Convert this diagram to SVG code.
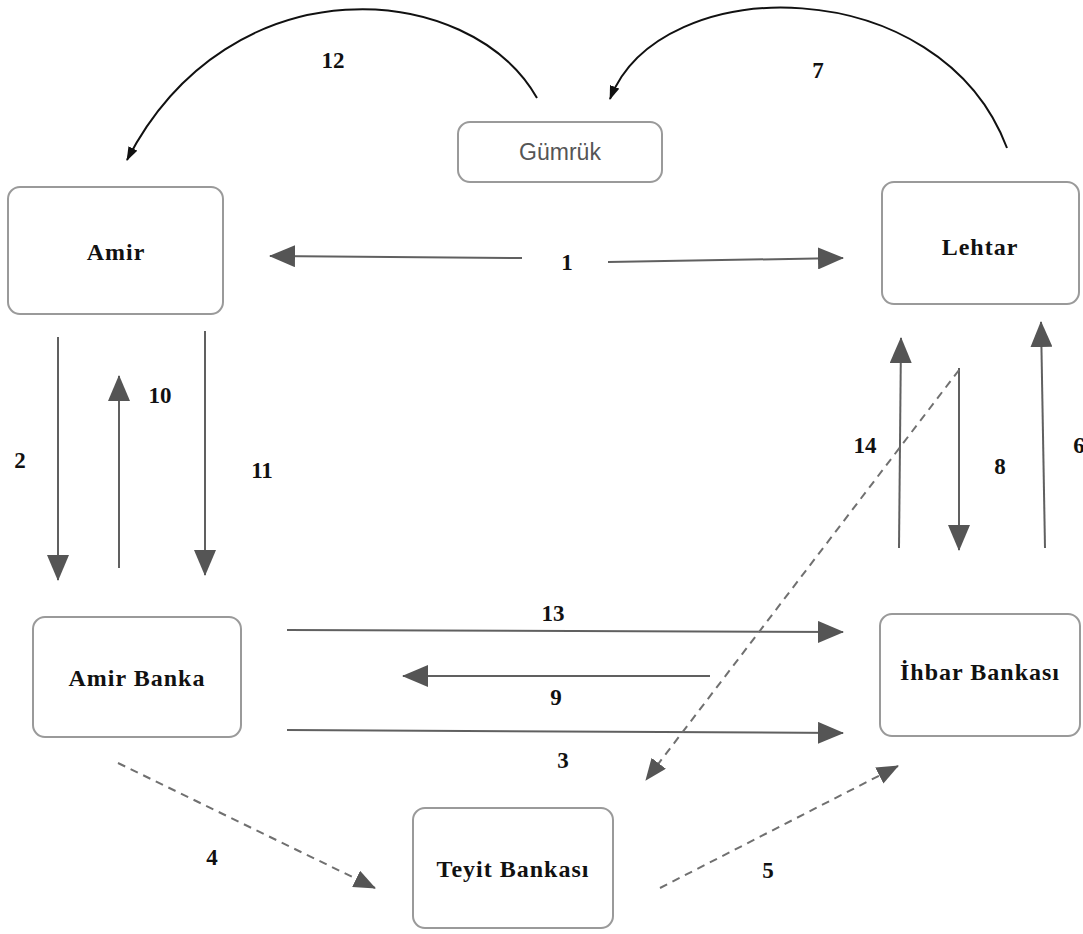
<svg xmlns="http://www.w3.org/2000/svg" width="1083" height="934" viewBox="0 0 1083 934">
  <style>
    .box { fill: #ffffff; stroke: #9a9a9a; stroke-width: 2; }
    .name { font-family: "Liberation Serif", "Times New Roman", serif; font-weight: bold; font-size: 24px; letter-spacing: 1px; fill: #111; text-anchor: middle; }
    .sans { font-family: "Liberation Sans", Arial, sans-serif; font-size: 23px; fill: #555; text-anchor: middle; }
    .num { font-family: "Liberation Serif", "Times New Roman", serif; font-weight: bold; font-size: 23px; fill: #111; text-anchor: middle; }
    .solid { fill: none; stroke: #606060; stroke-width: 2; }
    .dash { fill: none; stroke: #707070; stroke-width: 2; stroke-dasharray: 8 6; }
    .arc { fill: none; stroke: #111; stroke-width: 2; }
  </style>
  <defs>
    <marker id="head" markerUnits="userSpaceOnUse" markerWidth="26" markerHeight="22" refX="25" refY="11" orient="auto">
      <path d="M0,0 L26,11 L0,22 z" fill="#555"/>
    </marker>
    <marker id="headDash" markerUnits="userSpaceOnUse" markerWidth="22" markerHeight="18" refX="21" refY="9" orient="auto">
      <path d="M0,0 L22,9 L0,18 z" fill="#555"/>
    </marker>
    <marker id="headArc" markerUnits="userSpaceOnUse" markerWidth="14" markerHeight="10" refX="13" refY="5" orient="auto">
      <path d="M0,0 L14,5 L0,10 z" fill="#111"/>
    </marker>
  </defs>

  <rect width="1083" height="934" fill="#ffffff"/>

  <!-- nodes -->
  <g id="amir">
    <rect class="box" x="8" y="187" width="215" height="127" rx="12"/>
    <text class="name" x="116" y="260">Amir</text>
  </g>
  <g id="gumruk">
    <rect class="box" x="458" y="122" width="204" height="60" rx="12"/>
    <text class="sans" x="560" y="160">Gümrük</text>
  </g>
  <g id="lehtar">
    <rect class="box" x="882" y="182" width="197" height="122" rx="12"/>
    <text class="name" x="980" y="255">Lehtar</text>
  </g>
  <g id="amir-banka">
    <rect class="box" x="33" y="617" width="208" height="120" rx="12"/>
    <text class="name" x="137" y="686">Amir Banka</text>
  </g>
  <g id="ihbar-bankasi">
    <rect class="box" x="880" y="614" width="200" height="122" rx="12"/>
    <text class="name" x="980" y="680">İhbar Bankası</text>
  </g>
  <g id="teyit-bankasi">
    <rect class="box" x="413" y="808" width="200" height="120" rx="12"/>
    <text class="name" x="513" y="877">Teyit Bankası</text>
  </g>

  <!-- connectors -->
  <g id="connectors">
    <!-- 12: Gümrük to Amir -->
    <path class="arc" d="M537,98 C470,-20 230,-40 127,160" marker-end="url(#headArc)"/>
    <!-- 7: Lehtar to Gümrük -->
    <path class="arc" d="M1007,148 C940,-30 660,-30 610,99" marker-end="url(#headArc)"/>
    <!-- 1: both directions -->
    <line class="solid" x1="522" y1="258" x2="270" y2="256" marker-end="url(#head)"/>
    <line class="solid" x1="608" y1="262" x2="843" y2="258" marker-end="url(#head)"/>
    <!-- 2, 10, 11 -->
    <line class="solid" x1="58" y1="337" x2="58" y2="580" marker-end="url(#head)"/>
    <line class="solid" x1="119" y1="568" x2="119" y2="376" marker-end="url(#head)"/>
    <line class="solid" x1="205" y1="331" x2="205" y2="575" marker-end="url(#head)"/>
    <!-- 14, 8, 6 -->
    <line class="solid" x1="899" y1="548" x2="901" y2="338" marker-end="url(#head)"/>
    <line class="solid" x1="959" y1="368" x2="959" y2="550" marker-end="url(#head)"/>
    <line class="solid" x1="1045" y1="548" x2="1041" y2="322" marker-end="url(#head)"/>
    <!-- 13, 9, 3 -->
    <line class="solid" x1="287" y1="630" x2="843" y2="632" marker-end="url(#head)"/>
    <line class="solid" x1="710" y1="676" x2="403" y2="676" marker-end="url(#head)"/>
    <line class="solid" x1="287" y1="730" x2="843" y2="733" marker-end="url(#head)"/>
    <!-- dashed: Lehtar to Teyit, 4, 5 -->
    <line class="dash" x1="959" y1="370" x2="646" y2="780" marker-end="url(#headDash)"/>
    <line class="dash" x1="118" y1="763" x2="375" y2="888" marker-end="url(#headDash)"/>
    <line class="dash" x1="660" y1="888" x2="898" y2="766" marker-end="url(#headDash)"/>

    <!-- step numbers -->
    <text class="num" x="333" y="68">12</text>
    <text class="num" x="818" y="78">7</text>
    <text class="num" x="567" y="270">1</text>
    <text class="num" x="160" y="403">10</text>
    <text class="num" x="20" y="468">2</text>
    <text class="num" x="262" y="478">11</text>
    <text class="num" x="865" y="453">14</text>
    <text class="num" x="1000" y="474">8</text>
    <text class="num" x="1079" y="453">6</text>
    <text class="num" x="553" y="621">13</text>
    <text class="num" x="556" y="705">9</text>
    <text class="num" x="563" y="768">3</text>
    <text class="num" x="212" y="865">4</text>
    <text class="num" x="768" y="878">5</text>
  </g>
</svg>
